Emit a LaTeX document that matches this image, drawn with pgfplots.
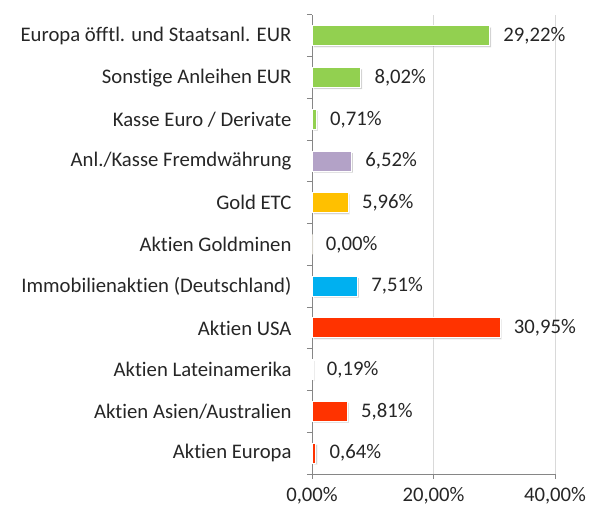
\documentclass[border=0pt]{standalone}
\usepackage{fontspec}
\setmainfont{Carlito}[Ligatures=NoCommon]
\usepackage{pgfplots}
\pgfplotsset{compat=1.18}
\usetikzlibrary{shadows}
\definecolor{cgreen}{HTML}{92D050}
\definecolor{cpurple}{HTML}{B3A2C7}
\definecolor{cgold}{HTML}{FFC000}
\definecolor{cblue}{HTML}{00B0F0}
\definecolor{cred}{HTML}{FF3300}
\definecolor{caxis}{HTML}{868686}
\definecolor{cgrid}{HTML}{D9D9D9}
\definecolor{ctext}{HTML}{262626}
\begin{document}
\begin{tikzpicture}[x=1bp,y=1bp]
\path (0,0) rectangle (596bp,512bp);
\begin{axis}[
  at={(312bp,38bp)}, anchor=south west,
  scale only axis, width=243bp, height=459bp,
  xmin=0, xmax=40, ymin=-0.5, ymax=10.5,
  axis x line*=bottom, axis y line*=left,
  axis line style={caxis, line width=1pt},
  xtick={0,20,40}, xticklabels={{0,00\%},{20,00\%},{40,00\%}},
  ytick={0,...,10},
  yticklabels={Aktien Europa, Aktien Asien/Australien, Aktien Lateinamerika, Aktien USA, Immobilienaktien (Deutschland), Aktien Goldminen, Gold ETC, Anl./Kasse Fremdwährung, Kasse Euro / Derivate, Sonstige Anleihen EUR, Europa öfftl. und Staatsanl. EUR},
  minor ytick={-0.5,0.5,...,10.5},
  major y tick style={draw=none},
  minor tick length=5bp,
  major tick length=5bp,
  tick align=outside,
  tick style={caxis, line width=1pt},
  xmajorgrids, major x grid style={cgrid, line width=1pt},
  ymajorgrids=false,
  /pgf/number format/assume math mode=true,
  ticklabel style={font=\fontsize{20.8}{24}\selectfont, text=ctext},
  yticklabel style={xshift=-12bp},
  xticklabel style={yshift=-5bp},
  xbar, bar width=20bp, bar shift=0pt,
  nodes near coords={\pgfmathprintnumber[fixed,fixed zerofill,precision=2,use comma,assume math mode=true]{\pgfplotspointmeta}\%},
  nodes near coords align={horizontal},
  every node near coord/.append style={font=\fontsize{20.8}{24}\selectfont, text=ctext, xshift=10bp},
  point meta=x,
  clip=false,
]
\addplot[fill=cgreen, draw=white, line width=1pt, drop shadow={shadow xshift=1.5bp, shadow yshift=-1.5bp, opacity=0.35}] coordinates {(29.22,10) (8.02,9) (0.71,8)};
\addplot[fill=cpurple, draw=white, line width=1pt, drop shadow={shadow xshift=1.5bp, shadow yshift=-1.5bp, opacity=0.35}] coordinates {(6.52,7)};
\addplot[fill=cgold, draw=white, line width=1pt, drop shadow={shadow xshift=1.5bp, shadow yshift=-1.5bp, opacity=0.35}] coordinates {(5.96,6) (0.00,5)};
\addplot[fill=cblue, draw=white, line width=1pt, drop shadow={shadow xshift=1.5bp, shadow yshift=-1.5bp, opacity=0.35}] coordinates {(7.51,4)};
\addplot[fill=cred, draw=white, line width=1pt, drop shadow={shadow xshift=1.5bp, shadow yshift=-1.5bp, opacity=0.35}] coordinates {(30.95,3) (0.19,2) (5.81,1) (0.64,0)};
\end{axis}
\end{tikzpicture}
\end{document}
